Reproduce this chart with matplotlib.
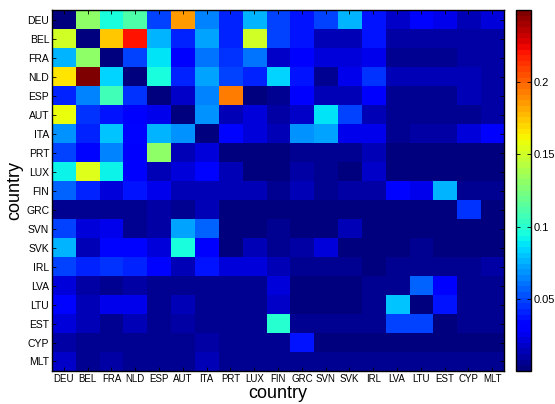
import numpy as np
import matplotlib

matplotlib.use("Agg")
import matplotlib.pyplot as plt

plt.rcParams["font.family"] = ["Liberation Sans", "DejaVu Sans"]

countries = ["DEU", "BEL", "FRA", "NLD", "ESP", "AUT", "ITA", "PRT", "LUX", "FIN",
             "GRC", "SVN", "SVK", "IRL", "LVA", "LTU", "EST", "CYP", "MLT"]
cbar_ticks = [0.05, 0.1, 0.15, 0.2]

# one row per country (rows = y axis, columns = x axis)
row_deu = [0.002, 0.130, 0.094, 0.110, 0.050, 0.186, 0.066, 0.042, 0.078, 0.050, 0.039, 0.050, 0.078, 0.038, 0.018, 0.034, 0.024, 0.015, 0.020]
row_bel = [0.150, 0.000, 0.175, 0.220, 0.078, 0.042, 0.074, 0.042, 0.150, 0.047, 0.039, 0.012, 0.012, 0.038, 0.008, 0.010, 0.008, 0.010, 0.008]
row_fra = [0.078, 0.130, 0.000, 0.050, 0.088, 0.030, 0.062, 0.043, 0.062, 0.018, 0.030, 0.020, 0.020, 0.024, 0.007, 0.005, 0.005, 0.010, 0.008]
row_nld = [0.166, 0.250, 0.084, 0.000, 0.094, 0.042, 0.074, 0.050, 0.042, 0.084, 0.038, 0.007, 0.024, 0.046, 0.012, 0.012, 0.012, 0.015, 0.010]
row_esp = [0.042, 0.064, 0.106, 0.043, 0.000, 0.018, 0.064, 0.195, 0.002, 0.007, 0.030, 0.012, 0.012, 0.030, 0.005, 0.005, 0.005, 0.012, 0.010]
row_aut = [0.157, 0.043, 0.036, 0.028, 0.024, 0.000, 0.070, 0.012, 0.020, 0.010, 0.017, 0.086, 0.050, 0.012, 0.007, 0.005, 0.005, 0.005, 0.010]
row_ita = [0.068, 0.042, 0.080, 0.032, 0.078, 0.070, 0.000, 0.032, 0.020, 0.015, 0.070, 0.074, 0.027, 0.024, 0.005, 0.010, 0.010, 0.020, 0.031]
row_prt = [0.049, 0.035, 0.066, 0.028, 0.130, 0.012, 0.020, 0.002, 0.003, 0.003, 0.007, 0.004, 0.006, 0.012, 0.003, 0.003, 0.003, 0.003, 0.003]
row_lux = [0.090, 0.153, 0.092, 0.028, 0.012, 0.020, 0.035, 0.012, 0.000, 0.003, 0.008, 0.006, 0.003, 0.018, 0.002, 0.002, 0.002, 0.002, 0.002]
row_fin = [0.055, 0.042, 0.020, 0.038, 0.024, 0.012, 0.014, 0.012, 0.012, 0.005, 0.014, 0.004, 0.008, 0.008, 0.032, 0.024, 0.078, 0.004, 0.004]
row_grc = [0.007, 0.007, 0.005, 0.005, 0.009, 0.005, 0.012, 0.003, 0.003, 0.003, 0.003, 0.003, 0.003, 0.003, 0.003, 0.003, 0.003, 0.046, 0.003]
row_svn = [0.050, 0.020, 0.024, 0.007, 0.009, 0.072, 0.055, 0.003, 0.003, 0.006, 0.003, 0.003, 0.012, 0.003, 0.003, 0.003, 0.003, 0.003, 0.003]
row_svk = [0.078, 0.014, 0.032, 0.032, 0.020, 0.094, 0.028, 0.003, 0.012, 0.004, 0.009, 0.020, 0.003, 0.003, 0.003, 0.007, 0.003, 0.003, 0.003]
row_irl = [0.049, 0.042, 0.046, 0.042, 0.035, 0.012, 0.038, 0.020, 0.020, 0.015, 0.004, 0.004, 0.007, 0.003, 0.007, 0.005, 0.004, 0.004, 0.008]
row_lva = [0.020, 0.009, 0.005, 0.009, 0.005, 0.007, 0.005, 0.004, 0.004, 0.020, 0.003, 0.003, 0.003, 0.006, 0.004, 0.055, 0.030, 0.006, 0.004]
row_ltu = [0.035, 0.014, 0.024, 0.027, 0.004, 0.012, 0.007, 0.004, 0.004, 0.017, 0.003, 0.003, 0.003, 0.006, 0.081, 0.000, 0.038, 0.004, 0.004]
row_est = [0.020, 0.012, 0.007, 0.012, 0.004, 0.009, 0.007, 0.004, 0.007, 0.100, 0.004, 0.004, 0.004, 0.004, 0.050, 0.047, 0.003, 0.007, 0.004]
row_cyp = [0.009, 0.004, 0.004, 0.004, 0.004, 0.004, 0.008, 0.004, 0.004, 0.004, 0.038, 0.003, 0.003, 0.003, 0.003, 0.003, 0.003, 0.003, 0.003]
row_mlt = [0.017, 0.004, 0.011, 0.004, 0.004, 0.004, 0.012, 0.004, 0.004, 0.007, 0.004, 0.004, 0.004, 0.004, 0.004, 0.007, 0.004, 0.004, 0.004]

rows = [row_deu, row_bel, row_fra, row_nld, row_esp, row_aut, row_ita, row_prt, row_lux,
        row_fin, row_grc, row_svn, row_svk, row_irl, row_lva, row_ltu, row_est, row_cyp, row_mlt]
mat = np.array(rows)

fig = plt.figure(figsize=(5.55, 4.04), dpi=100)
ax = fig.add_axes([0.0937, 0.0817, 0.8146, 0.8933])
cax = fig.add_axes([0.9297, 0.0817, 0.027, 0.8933])

cmap = plt.get_cmap("jet", 64)
im = ax.imshow(mat, cmap=cmap, vmin=0, vmax=0.25, aspect="auto", interpolation="nearest")

n = len(countries)
ax.set_xticks(range(n))
ax.set_yticks(range(n))
ax.set_xticklabels(countries, fontsize=7)
ax.set_yticklabels(countries, fontsize=7.5)
ax.tick_params(direction="in", length=3, width=0.6, top=True, right=True, pad=2)
ax.set_xlabel("country", fontsize=13, labelpad=1)
ax.set_ylabel("country", fontsize=13, labelpad=2)
for s in ax.spines.values():
    s.set_linewidth(1.0)

cb = fig.colorbar(im, cax=cax, ticks=cbar_ticks)
cb.ax.set_yticklabels(["0.05", "0.1", "0.15", "0.2"])
cb.ax.tick_params(direction="in", length=3, width=0.6, left=True, right=True, labelsize=8, pad=2)
cb.outline.set_linewidth(1.0)

fig.savefig("out.png", dpi=100)
